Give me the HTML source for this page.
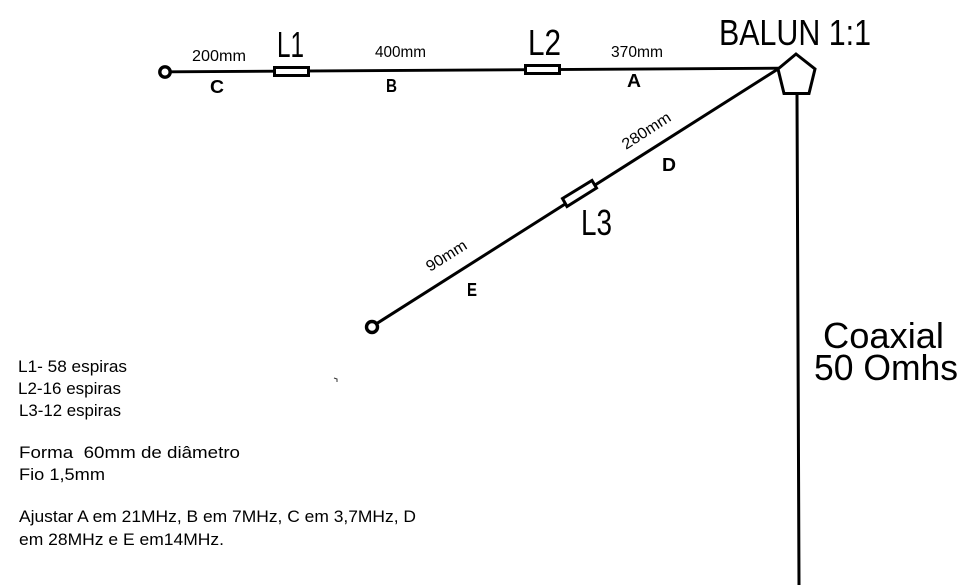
<!DOCTYPE html>
<html>
<head>
<meta charset="utf-8">
<style>
html,body{margin:0;padding:0;background:#fff;width:978px;height:585px;overflow:hidden}
svg{display:block}
text{font-family:"Liberation Sans",sans-serif;fill:#000;white-space:pre}
.b{font-weight:bold;font-size:18px}
.s{font-size:15.500px}
.n{font-size:17px}
.l{font-size:36px}
.c{font-size:36px}
</style>
</head>
<body>
<svg width="978" height="585" viewBox="0 0 978 585" xmlns="http://www.w3.org/2000/svg">
<rect width="978" height="585" fill="#fff"/>
<g fill="none" stroke="#000" stroke-linejoin="miter">
  <line x1="170" y1="71.800" x2="780" y2="68.200" stroke-width="2.800"/>
  <line x1="778" y1="69" x2="376" y2="324" stroke-width="3"/>
  <polygon points="796,54 815,69 809,93.500 784,93.500 778,69" fill="#fff" stroke-width="3"/>
  <path d="M797 94 L798 340 L799 585" stroke-width="3"/>
  <circle cx="165" cy="72" r="5.200" stroke-width="3.400" fill="#fff"/>
  <circle cx="372" cy="327" r="5.500" stroke-width="3.400" fill="#fff"/>
  <rect x="274.500" y="67.500" width="34" height="8" fill="#fff" stroke-width="3"/>
  <rect x="525.500" y="65.500" width="34" height="8" fill="#fff" stroke-width="3"/>
  <polygon points="592,180.500 596.500,188 567,206.500 562.500,198.500" fill="#fff" stroke-width="3"/>
</g>
<path d="M334 378 L337 379 L337 382" fill="none" stroke="#333" stroke-width="1"/>

<text class="l" x="719" y="45" textLength="152" lengthAdjust="spacingAndGlyphs">BALUN 1:1</text>
<text class="l" x="277" y="57" textLength="27" lengthAdjust="spacingAndGlyphs">L1</text>
<text class="l" x="528" y="55" textLength="33" lengthAdjust="spacingAndGlyphs">L2</text>
<text class="l" x="581" y="235" textLength="31" lengthAdjust="spacingAndGlyphs">L3</text>

<text class="s" x="192" y="61" textLength="54" lengthAdjust="spacingAndGlyphs">200mm</text>
<text class="s" x="375" y="57" textLength="51" lengthAdjust="spacingAndGlyphs">400mm</text>
<text class="s" x="611" y="57" textLength="52" lengthAdjust="spacingAndGlyphs">370mm</text>
<text class="s" transform="translate(626,150) rotate(-33)" textLength="55" lengthAdjust="spacingAndGlyphs">280mm</text>
<text class="s" transform="translate(430,272) rotate(-32)" textLength="45" lengthAdjust="spacingAndGlyphs">90mm</text>

<text class="b" x="210" y="93" textLength="14" lengthAdjust="spacingAndGlyphs">C</text>
<text class="b" x="386" y="92" textLength="11" lengthAdjust="spacingAndGlyphs">B</text>
<text class="b" x="627" y="87" textLength="14" lengthAdjust="spacingAndGlyphs">A</text>
<text class="b" x="662" y="171" textLength="14" lengthAdjust="spacingAndGlyphs">D</text>
<text class="b" x="467" y="296" textLength="10" lengthAdjust="spacingAndGlyphs">E</text>

<text class="c" x="823" y="348" textLength="121" lengthAdjust="spacingAndGlyphs">Coaxial</text>
<text class="c" x="814" y="380" textLength="144" lengthAdjust="spacingAndGlyphs">50 Omhs</text>

<text class="n" x="18" y="372" textLength="109" lengthAdjust="spacingAndGlyphs">L1- 58 espiras</text>
<text class="n" x="18" y="394" textLength="103" lengthAdjust="spacingAndGlyphs">L2-16 espiras</text>
<text class="n" x="19" y="416" textLength="102" lengthAdjust="spacingAndGlyphs">L3-12 espiras</text>
<text class="n" x="19" y="458" textLength="221" lengthAdjust="spacingAndGlyphs">Forma  60mm de diâmetro</text>
<text class="n" x="19" y="480" textLength="86" lengthAdjust="spacingAndGlyphs">Fio 1,5mm</text>
<text class="n" x="19" y="522" textLength="397" lengthAdjust="spacingAndGlyphs">Ajustar A em 21MHz, B em 7MHz, C em 3,7MHz, D</text>
<text class="n" x="19" y="545" textLength="205" lengthAdjust="spacingAndGlyphs">em 28MHz e E em14MHz.</text>
</svg>
</body>
</html>
